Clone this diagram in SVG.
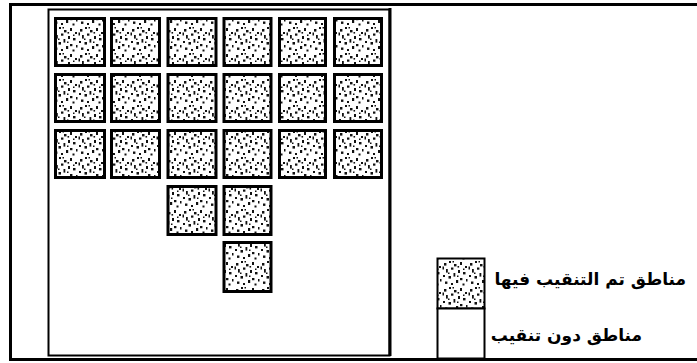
<svg xmlns="http://www.w3.org/2000/svg" width="697" height="363" viewBox="0 0 697 363">
<defs>
<pattern id="stip" patternUnits="userSpaceOnUse" width="26" height="26">
<rect width="26" height="26" fill="#fff"/>
<g fill="#111">
<rect x="2" y="3" width="2.4" height="2.6"/><rect x="7" y="1" width="2" height="2"/><rect x="12" y="4" width="2.5" height="2.4"/><rect x="18" y="2" width="2" height="3"/><rect x="23" y="6" width="2" height="2"/><rect x="4" y="9" width="1.8" height="3.6"/><rect x="9" y="7.5" width="2.4" height="2.2"/><rect x="16" y="10" width="2" height="3"/><rect x="21" y="12" width="2.5" height="2.4"/><rect x="1" y="15" width="2" height="2"/><rect x="6.5" y="16" width="2.5" height="2.6"/><rect x="11.5" y="13" width="1.8" height="3.6"/><rect x="18" y="18" width="2.4" height="2.2"/><rect x="24" y="19" width="1.5" height="2.5"/><rect x="3" y="21.5" width="2.4" height="2.4"/><rect x="9" y="23" width="2" height="2"/><rect x="14" y="20" width="2.2" height="3"/><rect x="20.5" y="23.5" width="2" height="2"/><rect x="10.5" y="1" width="1.5" height="1.5"/><rect x="15.5" y="6" width="1.6" height="1.6"/><rect x="6" y="12.5" width="1.5" height="1.5"/><rect x="21" y="8.5" width="1.5" height="1.5"/><rect x="15" y="15.5" width="1.5" height="1.5"/><rect x="0.5" y="6.5" width="1.5" height="3"/>
</g>
</pattern>
<style>
.sq{fill:url(#stip);stroke:#000;stroke-width:3}
.frame{fill:none;stroke:#000}
.lbl{font-family:"DejaVu Sans",sans-serif;font-weight:bold;font-size:17px;fill:#000}
</style>
</defs>
<rect width="697" height="363" fill="#fff"/>
<g id="frame">
<path class="frame" stroke-width="3" d="M697 4.5H10.5V359.5H697"/>
<rect class="frame" x="48.5" y="9.5" width="341" height="346" stroke-width="2"/>
<line x1="390" y1="8" x2="390" y2="356" stroke="#000" stroke-width="3"/>
</g>
<g id="row1">
<rect class="sq" x="55.5" y="18.5" width="49" height="47"/>
<rect class="sq" x="111.5" y="18.5" width="48" height="47"/>
<rect class="sq" x="168" y="18.5" width="48" height="47"/>
<rect class="sq" x="224" y="18.5" width="47" height="47"/>
<rect class="sq" x="279.5" y="18.5" width="46" height="47"/>
<rect class="sq" x="334.5" y="18.5" width="47" height="47"/>
</g>
<g id="row2">
<rect class="sq" x="55.5" y="74.5" width="49" height="47"/>
<rect class="sq" x="111.5" y="74.5" width="48" height="47"/>
<rect class="sq" x="168" y="74.5" width="48" height="47"/>
<rect class="sq" x="224" y="74.5" width="47" height="47"/>
<rect class="sq" x="279.5" y="74.5" width="46" height="47"/>
<rect class="sq" x="334.5" y="74.5" width="47" height="47"/>
</g>
<g id="row3">
<rect class="sq" x="55.5" y="130.5" width="49" height="47"/>
<rect class="sq" x="111.5" y="130.5" width="48" height="47"/>
<rect class="sq" x="168" y="130.5" width="48" height="47"/>
<rect class="sq" x="224" y="130.5" width="47" height="47"/>
<rect class="sq" x="279.5" y="130.5" width="46" height="47"/>
<rect class="sq" x="334.5" y="130.5" width="47" height="47"/>
</g>
<g id="row4">
<rect class="sq" x="168" y="186.5" width="48" height="48"/>
<rect class="sq" x="224" y="186.5" width="47" height="48"/>
</g>
<g id="row5">
<rect class="sq" x="224" y="242.5" width="47" height="49"/>
</g>
<g id="legend-drilled">
<rect x="437.5" y="258.5" width="47" height="50" fill="url(#stip)" stroke="#000" stroke-width="2"/>
<text class="lbl" x="686" y="285" text-anchor="end">مناطق تم التنقيب فيها</text>
</g>
<g id="legend-undrilled">
<rect x="437.5" y="308.5" width="47" height="50" fill="#fff" stroke="#000" stroke-width="2"/>
<text class="lbl" x="642" y="341" text-anchor="end">مناطق دون تنقيب</text>
</g>
</svg>
